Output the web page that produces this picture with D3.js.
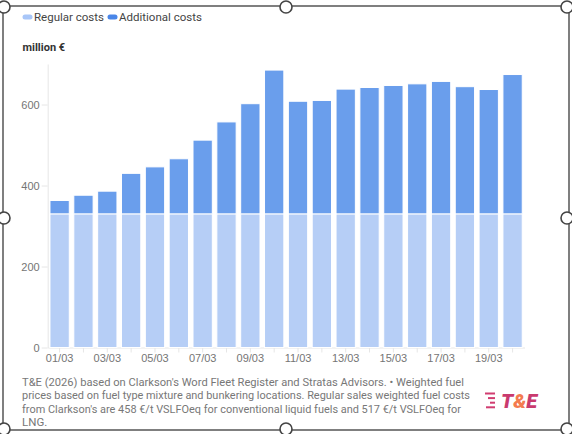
<!DOCTYPE html>
<html>
<head>
<meta charset="utf-8">
<script src="https://cdn.jsdelivr.net/npm/d3@7"></script>
<style>
  body { margin: 0; background: #fff; }
  svg { display: block; font-family: Roboto, "Noto Sans", sans-serif; }
  .axis text { fill: #757575; font-size: 11px; }
  .axis line, .axis path { stroke: #e6e6e6; }
</style>
</head>
<body>
<script>
const days = ["01/03","02/03","03/03","04/03","05/03","06/03","07/03","08/03","09/03","10/03",
              "11/03","12/03","13/03","14/03","15/03","16/03","17/03","18/03","19/03","20/03"];
const regular = [330,330,330,330,330,330,330,330,330,330,330,330,330,330,330,330,330,330,330,330];
const additional = [33,46,56,100,116,136,182,227,272,355,278,280,308,312,317,321,327,314,307,344];
const yTicks = [0, 200, 400, 600];
const seriesNames = ["Regular costs", "Additional costs"];
const sourceLines = [
  "T&E (2026) based on Clarkson's Word Fleet Register and Stratas Advisors. \u2022 Weighted fuel",
  "prices based on fuel type mixture and bunkering locations. Regular sales weighted fuel costs",
  "from Clarkson's are 458 \u20ac/t VSLFOeq for conventional liquid fuels and 517 \u20ac/t VSLFOeq for",
  "LNG."
];

function init() {
  const dimensions = {
    margin: { top: 64, right: 47.5, bottom: 86.5, left: 47.7 },
    width: 572,
    height: 434,
  }
  const { width, height, margin } = dimensions

  const svg = d3.select("body").append("svg").attr("width", width).attr("height", height);

  const barColors = ["#b6cef6", "#6a9eec"];
  const swatchColors = ["#a8c6f8", "#4a86e8"];

  // legend
  const legend = svg.append("g").attr("transform", "translate(22.5,17)");
  let lx = 0;
  seriesNames.forEach((name, i) => {
    legend.append("rect")
      .attr("x", lx).attr("y", -2.5).attr("width", 10).attr("height", 5).attr("rx", 2.5)
      .attr("fill", swatchColors[i]);
    const t = legend.append("text")
      .attr("x", lx + 11.5).attr("y", 4)
      .attr("fill", "#444").style("font-size", "11.5px")
      .text(name);
    lx += 11.5 + t.node().getComputedTextLength() + 3.5;
  });

  svg.append("text")
    .attr("x", 22.5).attr("y", 51)
    .attr("fill", "#333").style("font-size", "11px").style("font-weight", "bold")
    .text("million \u20ac");

  const yScale = d3.scaleLinear()
    .domain([0, 700])
    .range([height - margin.bottom, margin.top]);

  const xScale = d3.scaleBand()
    .domain(days)
    .range([margin.left, width - margin.right])
    .paddingInner(0.19)
    .paddingOuter(0.095);

  // y-axis
  svg.append("g")
    .attr("class", "axis")
    .attr("transform", `translate(${margin.left},0)`)
    .call(d3.axisLeft(yScale).tickValues(yTicks).tickSize(6).tickPadding(2).tickSizeOuter(0));

  // x-axis
  svg.append("g")
    .attr("class", "axis")
    .attr("transform", `translate(0,${height - margin.bottom})`)
    .call(d3.axisBottom(xScale).tickSize(5).tickPadding(2).tickSizeOuter(0)
      .tickFormat((d, i) => i % 2 === 0 ? d : ""));

  // stacked bars
  const rows = days.map((d, i) => ({ day: d, regular: regular[i], additional: additional[i] }));
  const stacked = d3.stack().keys(["regular", "additional"])(rows);

  svg.append("g")
    .selectAll("g")
    .data(stacked)
    .join("g")
    .attr("fill", (d, i) => barColors[i])
    .selectAll("rect")
    .data(d => d)
    .join("rect")
    .attr("x", d => xScale(d.data.day))
    .attr("y", d => yScale(d[1]))
    .attr("width", xScale.bandwidth())
    .attr("height", d => yScale(d[0]) - yScale(d[1]))
    .attr("stroke", "#fff")
    .attr("stroke-width", 1);

  // source note, squeezed to the widths seen in the reference
  const lineWidths = [442, 448, 439, null];
  svg.append("g")
    .selectAll("text")
    .data(sourceLines)
    .join("text")
    .attr("x", 22)
    .attr("y", (d, i) => 386 + i * 13.3)
    .attr("fill", "#777")
    .style("font-size", "11.5px")
    .each(function (d, i) {
      if (lineWidths[i]) d3.select(this).attr("textLength", lineWidths[i]).attr("lengthAdjust", "spacingAndGlyphs");
    })
    .text(d => d);

  // logo
  const logo = svg.append("g").attr("transform", "translate(495,400)");
  [10, 7, 5, 9].forEach((len, i) => {
    logo.append("rect")
      .attr("x", -len).attr("y", -7.5 + i * 4.6)
      .attr("width", len).attr("height", 2)
      .attr("fill", "#d13d71");
  });
  const logoText = logo.append("text")
    .attr("x", 6).attr("y", 8)
    .style("font-size", "20px").style("font-weight", "900").style("font-style", "italic");
  logoText.append("tspan").attr("fill", "#c93a6e").text("T");
  logoText.append("tspan").attr("fill", "#f47b4f").text("&");
  logoText.append("tspan").attr("fill", "#c93a6e").text("E");

  // selection frame
  const frame = svg.append("g");
  frame.append("rect")
    .attr("x", 3).attr("y", 6).attr("width", 566).attr("height", 424)
    .attr("fill", "none").attr("stroke", "#555").attr("stroke-width", 1.5);
  const hx = [4, 286, 567], hy = [7, 218, 429];
  hx.forEach((x, i) => hy.forEach((y, j) => {
    if (i === 1 && j === 1) return;
    frame.append("circle").attr("cx", x).attr("cy", y).attr("r", 6)
      .attr("fill", "#fff").attr("stroke", "#444").attr("stroke-width", 1.6);
  }));
}

document.addEventListener("DOMContentLoaded", init)
</script>
</body>
</html>
